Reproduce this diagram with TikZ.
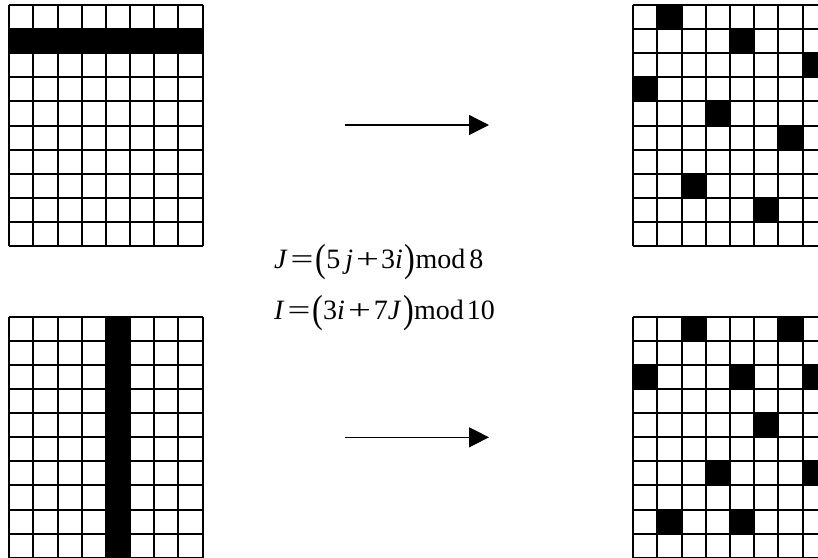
\documentclass[tikz,border=0pt]{standalone}
\usepackage{graphicx}
\usepackage{fontspec}
\setmainfont{Liberation Serif}
\usetikzlibrary{arrows.meta,positioning}

% wide operators and tall round brackets, as in the formula
\newcommand{\wideop}[1]{\scalebox{1.45}[1]{#1}}
\newcommand{\tallparen}[1]{\raisebox{-0.28ex}{\scalebox{1.15}[1.4]{#1}}}

\begin{document}
\begin{tikzpicture}[x=1pt,y=-1pt,
    gridline/.style={line width=2pt},
    mapping/.style={line width=1.3pt, -{Triangle[length=20pt,width=20pt]}},
    eqtext/.style={font=\fontsize{28}{32}\selectfont, inner sep=0pt}]
    \useasboundingbox (0,0) rectangle (818,557);
    \clip (0,0) rectangle (818,557);

    % original: one black row (top) and one black column (bottom)
    \fill (9.3,29.1) rectangle ++(193.4,24.1);
    \fill (106,316.7) rectangle ++(24.17,241);

    % scrambled grids
    \begin{scope}[shift={(633.3,5)}]
        \foreach \c/\r in {1/0,4/1,7/2,0/3,3/4,6/5,2/7,5/8}
            \fill (\c*24.17,\r*24.1) rectangle ++(24.17,24.1);
    \end{scope}
    \begin{scope}[shift={(633.3,316.7)}]
        \foreach \c/\r in {2/0,6/0,0/2,4/2,7/2,5/4,3/6,7/6,1/8,4/8}
            \fill (\c*24.17,\r*24.1) rectangle ++(24.17,24.1);
    \end{scope}

    % the four 8x10 grids
    \foreach \gx/\gy in {9.3/5, 633.3/5, 9.3/316.7, 633.3/316.7} {
        \begin{scope}[shift={(\gx,\gy)}]
            \foreach \k in {0,...,8}
                \draw[gridline] (\k*24.17,0) -- (\k*24.17,241);
            \foreach \k in {0,...,10}
                \draw[gridline] (0,\k*24.1) -- (193.4,\k*24.1);
        \end{scope}
    }

    % arrows
    \coordinate (rowfrom) at (345,125);
    \coordinate (rowto) at (489,125);
    \coordinate (colfrom) at (345,437.3);
    \coordinate (colto) at (489,437.3);
    \draw[mapping] (rowfrom) -- (rowto);
    \draw[mapping] (colfrom) -- (colto);

    % formulas
    \node[eqtext, anchor=base west] (eqJ) at (274,268)
        {\textit{J}\hspace{3pt}\wideop{=}\hspace{2pt}\tallparen{(}5\hspace{5pt}\textit{j}\hspace{3pt}\wideop{+}\hspace{2pt}3\textit{i}\hspace{2pt}\tallparen{)}mod\hspace{4pt}8};
    \node[eqtext, anchor=base west] (eqI) at (274,319)
        {\textit{I}\hspace{3pt}\wideop{=}\hspace{2pt}\tallparen{(}3\textit{i}\hspace{3pt}\wideop{+}\hspace{3pt}7\textit{J}\hspace{2pt}\tallparen{)}mod\hspace{3pt}10};
\end{tikzpicture}
\end{document}
